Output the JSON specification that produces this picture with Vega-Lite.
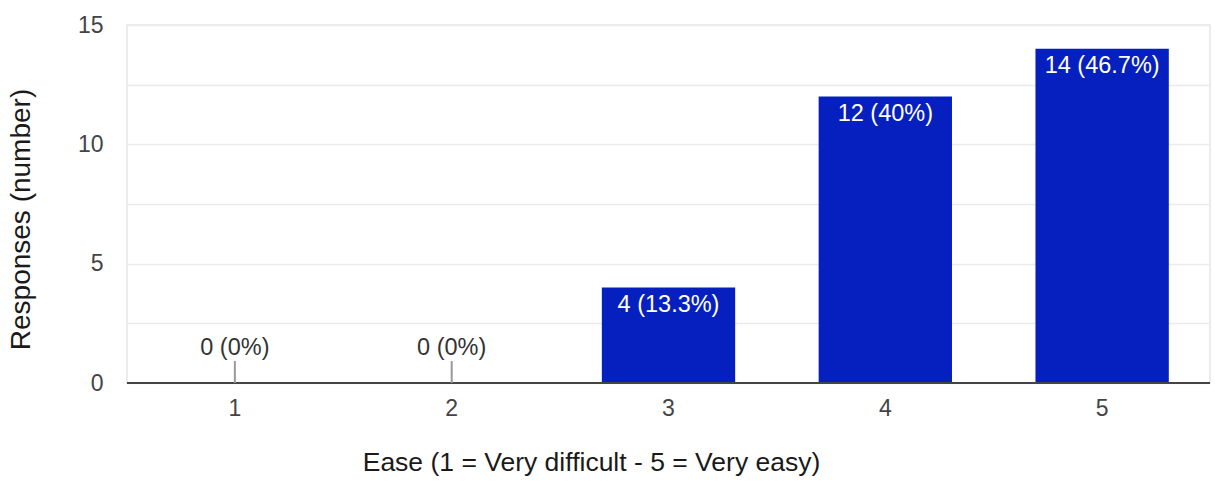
{
  "$schema": "https://vega.github.io/schema/vega-lite/v6.json",
  "autosize": "none",
  "width": 1083,
  "height": 358,
  "padding": {"left": 127, "top": 25, "right": 5, "bottom": 99},
  "background": "white",
  "config": {
    "font": "Liberation Sans",
    "view": {"stroke": "#e6e6e6", "strokeWidth": 1.5}
  },
  "data": {
    "values": [
      {"ease": "1", "count": 0, "label": "0 (0%)"},
      {"ease": "2", "count": 0, "label": "0 (0%)"},
      {"ease": "3", "count": 4, "label": "4 (13.3%)"},
      {"ease": "4", "count": 12, "label": "12 (40%)"},
      {"ease": "5", "count": 14, "label": "14 (46.7%)"}
    ]
  },
  "encoding": {
    "x": {
      "field": "ease",
      "type": "nominal",
      "sort": null,
      "scale": {"paddingInner": 0.385, "paddingOuter": 0.19},
      "axis": {
        "title": "Ease (1 = Very difficult - 5 = Very easy)",
        "titleFontSize": 26.5,
        "titleFontWeight": "normal",
        "titleColor": "#1a1a1a",
        "titlePadding": 29,
        "titleX": 464,
        "titleAnchor": "middle",
        "labelAngle": 0,
        "labelFontSize": 23,
        "labelColor": "#444444",
        "labelPadding": 14,
        "ticks": false,
        "domain": false
      }
    }
  },
  "layer": [
    {
      "mark": {"type": "bar", "color": "#0620c0"},
      "encoding": {
        "y": {
          "field": "count",
          "type": "quantitative",
          "scale": {"domain": [0, 15], "nice": false},
          "axis": {
            "title": "Responses (number)",
            "titleFontSize": 28,
            "titleFontWeight": "normal",
            "titleColor": "#1a1a1a",
            "titlePadding": 42,
            "titleY": 194,
            "titleAnchor": "middle",
            "values": [0, 2.5, 5, 7.5, 10, 12.5, 15],
            "labelExpr": "datum.value % 5 === 0 ? datum.label : ''",
            "labelFontSize": 23,
            "labelColor": "#444444",
            "labelPadding": 24,
            "ticks": false,
            "domain": false,
            "grid": true,
            "gridColor": "#ebebeb",
            "gridWidth": 1.5
          }
        }
      }
    },
    {
      "mark": {"type": "rule", "color": "#444444", "strokeWidth": 2},
      "encoding": {"y": {"datum": 0, "type": "quantitative"}, "x": {"value": 0}, "x2": {"value": 1083}}
    },
    {
      "transform": [{"filter": "datum.count === 0"}],
      "mark": {"type": "rule", "color": "#999999", "strokeWidth": 2},
      "encoding": {
        "y": {"datum": 0, "type": "quantitative"},
        "y2": {"datum": 0.92}
      }
    },
    {
      "transform": [{"filter": "datum.count === 0"}],
      "mark": {"type": "text", "fontSize": 23.5, "color": "#333333", "baseline": "middle", "dy": -35},
      "encoding": {
        "y": {"field": "count", "type": "quantitative"},
        "text": {"field": "label"}
      }
    },
    {
      "transform": [{"filter": "datum.count > 0"}],
      "mark": {"type": "text", "fontSize": 23.5, "color": "#ffffff", "baseline": "top", "dy": 5},
      "encoding": {
        "y": {"field": "count", "type": "quantitative"},
        "text": {"field": "label"}
      }
    }
  ]
}
